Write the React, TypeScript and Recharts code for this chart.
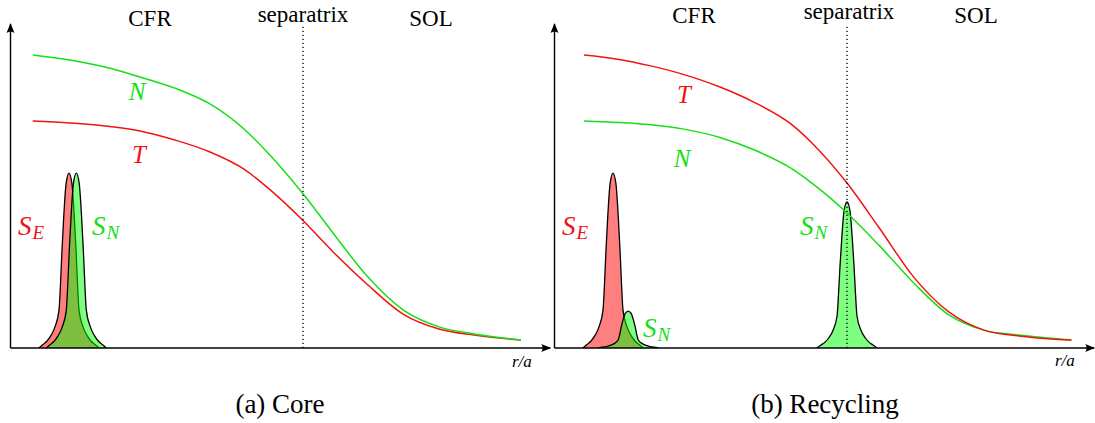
import React from "react";
import {
  ComposedChart,
  Line,
  Area,
  XAxis,
  YAxis,
  ReferenceLine,
  ReferenceDot,
} from "recharts";

// radial grid of the profile curves (r/a, separatrix at 1)
const rCore = [0.076, 0.203, 0.323, 0.443, 0.562, 0.682, 0.802, 0.877, 0.998, 1.103, 1.222, 1.342, 1.465, 1.585, 1.745];
const nCore = [1.0, 0.983, 0.959, 0.925, 0.887, 0.833, 0.744, 0.669, 0.529, 0.392, 0.242, 0.13, 0.072, 0.048, 0.027];
const tCore = [0.775, 0.768, 0.758, 0.741, 0.71, 0.669, 0.608, 0.549, 0.437, 0.328, 0.215, 0.116, 0.065, 0.044, 0.027];

const rRecy = [0.101, 0.215, 0.329, 0.437, 0.568, 0.688, 0.808, 0.88, 1.0, 1.108, 1.228, 1.348, 1.468, 1.588, 1.767];
const tRecy = [1.0, 0.986, 0.963, 0.935, 0.89, 0.836, 0.765, 0.7, 0.563, 0.413, 0.242, 0.123, 0.061, 0.041, 0.027];
const nRecy = [0.775, 0.77, 0.762, 0.748, 0.718, 0.674, 0.614, 0.563, 0.461, 0.352, 0.222, 0.113, 0.061, 0.044, 0.027];

// source terms
const rSE = [0.097, 0.111, 0.125, 0.138, 0.152, 0.166, 0.171, 0.176, 0.182, 0.19, 0.2, 0.21, 0.218, 0.224, 0.229, 0.234, 0.248, 0.262, 0.275, 0.289, 0.303];
const sE = [0, 0.012, 0.024, 0.042, 0.072, 0.131, 0.221, 0.334, 0.448, 0.561, 0.597, 0.561, 0.448, 0.334, 0.221, 0.131, 0.072, 0.042, 0.024, 0.012, 0];

const rSNCore = [0.122, 0.136, 0.15, 0.163, 0.177, 0.191, 0.196, 0.201, 0.207, 0.215, 0.225, 0.235, 0.243, 0.249, 0.254, 0.259, 0.273, 0.287, 0.3, 0.314, 0.328];
const sNCore = [0, 0.012, 0.024, 0.042, 0.072, 0.131, 0.221, 0.334, 0.448, 0.561, 0.597, 0.561, 0.448, 0.334, 0.221, 0.131, 0.072, 0.042, 0.024, 0.012, 0];

const rSNSmall = [0.149, 0.163, 0.177, 0.19, 0.204, 0.218, 0.223, 0.228, 0.234, 0.242, 0.252, 0.262, 0.27, 0.276, 0.281, 0.286, 0.3, 0.314, 0.327, 0.341, 0.355];
const sNSmall = [0, 0.003, 0.005, 0.009, 0.015, 0.028, 0.047, 0.071, 0.095, 0.118, 0.126, 0.118, 0.095, 0.071, 0.047, 0.028, 0.015, 0.009, 0.005, 0.003, 0];

const rSNSep = [0.897, 0.911, 0.925, 0.938, 0.952, 0.966, 0.971, 0.976, 0.982, 0.99, 1.0, 1.01, 1.018, 1.024, 1.029, 1.034, 1.048, 1.062, 1.075, 1.089, 1.103];
const sNSep = [0, 0.01, 0.02, 0.035, 0.06, 0.11, 0.185, 0.279, 0.374, 0.469, 0.499, 0.469, 0.374, 0.279, 0.185, 0.11, 0.06, 0.035, 0.02, 0.01, 0];

const X_MAX = 1.845;
const Y_MAX = 1.106;
const RED = "#f21212";
const GREEN = "#14e014";
const SERIF = '"Liberation Serif", "Times New Roman", "DejaVu Serif", serif';

const pts = (xs: number[], ys: number[]) => xs.map((r, i) => ({ r, v: ys[i] }));

const ArrowRight = (p: any) => (
  <path
    d={`M${p.cx + 1},${p.cy} L${p.cx - 9},${p.cy - 4} Q${p.cx - 6},${p.cy} ${p.cx - 9},${p.cy + 4} Z`}
    fill="#000"
  />
);
const ArrowUp = (p: any) => (
  <path
    d={`M${p.cx},${p.cy - 1} L${p.cx - 4},${p.cy + 9} Q${p.cx},${p.cy + 6} ${p.cx + 4},${p.cy + 9} Z`}
    fill="#000"
  />
);

function Panel({ left, width, sources, curves }: any) {
  return (
    <div style={{ position: "absolute", left, top: 0 }}>
      <ComposedChart
        width={width}
        height={370}
        margin={{ top: 24, right: width - 10.5 - 539.7, left: 10.5, bottom: 22 }}
      >
        <XAxis dataKey="r" type="number" domain={[0, X_MAX]} allowDataOverflow hide />
        <YAxis type="number" domain={[0, Y_MAX]} allowDataOverflow hide />
        {sources.map((s: any, i: number) => (
          <Area
            key={"s" + i}
            data={s.data}
            dataKey="v"
            type="monotone"
            fill={s.color}
            fillOpacity={0.5}
            stroke="#000"
            strokeWidth={1.3}
            isAnimationActive={false}
          />
        ))}
        {curves.map((c: any, i: number) => (
          <Line
            key={"c" + i}
            data={c.data}
            dataKey="v"
            type="monotone"
            stroke={c.color}
            strokeWidth={1.5}
            dot={false}
            isAnimationActive={false}
          />
        ))}
        <ReferenceLine x={1} stroke="#000" strokeWidth={1.3} strokeDasharray="1.3 2.7" />
        <ReferenceLine y={0} stroke="#000" strokeWidth={1.4} />
        <ReferenceLine x={0} stroke="#000" strokeWidth={1.4} />
        <ReferenceDot x={X_MAX} y={0} ifOverflow="visible" shape={ArrowRight} />
        <ReferenceDot x={0} y={Y_MAX} ifOverflow="visible" shape={ArrowUp} />
      </ComposedChart>
    </div>
  );
}

function Sub({ x, y, main, sub, color }: any) {
  return (
    <text x={x} y={y} fill={color} style={{ fontFamily: SERIF, fontStyle: "italic", fontSize: 27 }}>
      {main}
      <tspan style={{ fontSize: 19 }} dy={4} dx={1}>
        {sub}
      </tspan>
    </text>
  );
}

function Tx({ x, y, size, color = "#000", italic = false, anchor = "middle", children }: any) {
  return (
    <text
      x={x}
      y={y}
      fill={color}
      textAnchor={anchor}
      style={{ fontFamily: SERIF, fontSize: size, fontStyle: italic ? "italic" : "normal" }}
    >
      {children}
    </text>
  );
}

export default function App() {
  return (
    <div style={{ position: "absolute", left: 0, top: 0, width: 1095, height: 423, background: "#fff" }}>
      <Panel
        left={0}
        width={556}
        sources={[
          { data: pts(rSE, sE), color: "#ff0000" },
          { data: pts(rSNCore, sNCore), color: "#00ff00" },
        ]}
        curves={[
          { data: pts(rCore, tCore), color: RED },
          { data: pts(rCore, nCore), color: GREEN },
        ]}
      />
      <Panel
        left={544}
        width={551}
        sources={[
          { data: pts(rSE, sE), color: "#ff0000" },
          { data: pts(rSNSmall, sNSmall), color: "#00ff00" },
          { data: pts(rSNSep, sNSep), color: "#00ff00" },
        ]}
        curves={[
          { data: pts(rRecy, nRecy), color: GREEN },
          { data: pts(rRecy, tRecy), color: RED },
        ]}
      />
      <svg
        width={1095}
        height={423}
        style={{ position: "absolute", left: 0, top: 0, pointerEvents: "none" }}
      >
        <Tx x={150} y={26} size={23}>CFR</Tx>
        <Tx x={303} y={21.5} size={23}>separatrix</Tx>
        <Tx x={431} y={26} size={23}>SOL</Tx>
        <Tx x={694} y={23} size={23}>CFR</Tx>
        <Tx x={849} y={18.5} size={23}>separatrix</Tx>
        <Tx x={976} y={23} size={23}>SOL</Tx>

        <Tx x={512} y={367} size={17} italic anchor="start">r/a</Tx>
        <Tx x={1055} y={366} size={17} italic anchor="start">r/a</Tx>

        <Tx x={137} y={100} size={25} italic color={GREEN}>N</Tx>
        <Tx x={139} y={163} size={25} italic color={RED}>T</Tx>
        <Tx x={684} y={103} size={25} italic color={RED}>T</Tx>
        <Tx x={682} y={167} size={25} italic color={GREEN}>N</Tx>

        <Sub x={18} y={235} main="S" sub="E" color={RED} />
        <Sub x={92} y={235} main="S" sub="N" color={GREEN} />
        <Sub x={562} y={235} main="S" sub="E" color={RED} />
        <Sub x={643} y={337} main="S" sub="N" color={GREEN} />
        <Sub x={800} y={235} main="S" sub="N" color={GREEN} />

        <Tx x={280} y={413} size={27}>(a) Core</Tx>
        <Tx x={825} y={413} size={27}>(b) Recycling</Tx>
      </svg>
    </div>
  );
}
